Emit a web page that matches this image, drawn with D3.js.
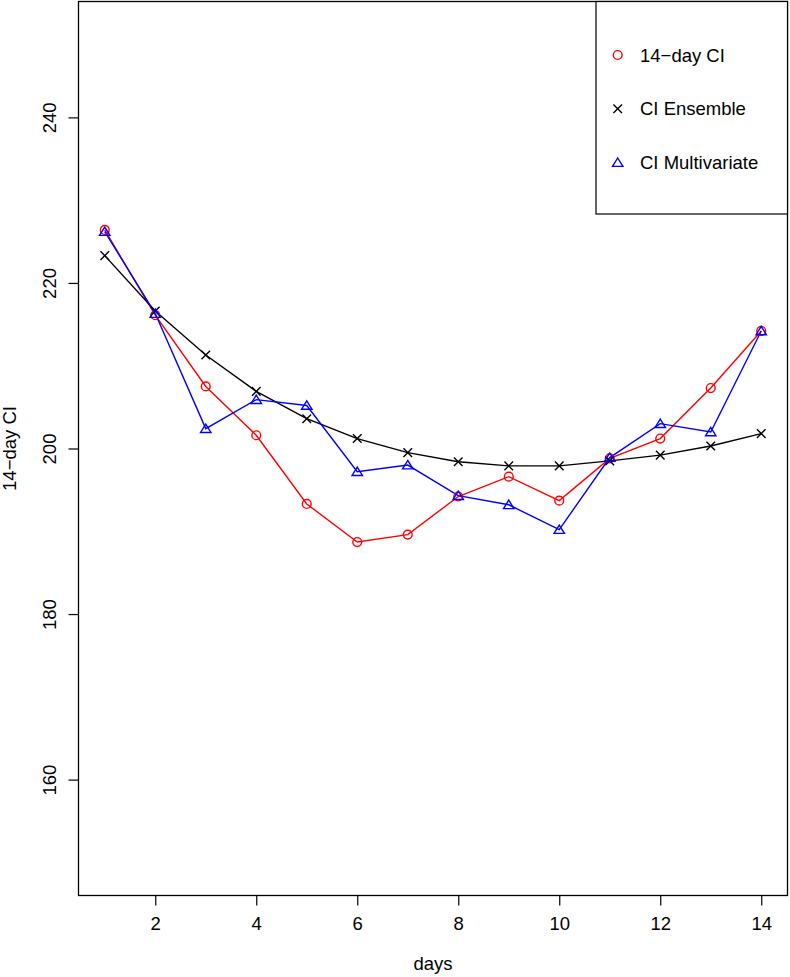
<!DOCTYPE html>
<html>
<head>
<meta charset="utf-8">
<script src="https://cdn.jsdelivr.net/npm/d3@7"></script>
<style>
  body { margin: 0; background: #fff; }
  svg text { font-family: "Liberation Sans", Arial, sans-serif; font-size: 18.5px; fill: #000; }
</style>
</head>
<body>
<div id="chart"></div>
<script>
// values
var days = [1, 2, 3, 4, 5, 6, 7, 8, 9, 10, 11, 12, 13, 14];
var ci14 = [226.4, 216.1, 207.5, 201.6, 193.3, 188.7, 189.6, 194.2, 196.6, 193.7, 198.8, 201.2, 207.3, 214.2];
var ciEnsemble = [223.3, 216.6, 211.3, 206.9, 203.6, 201.2, 199.5, 198.4, 197.9, 197.9, 198.5, 199.2, 200.3, 201.8];
var ciMulti = [226.2, 216.3, 202.4, 205.9, 205.2, 197.2, 198.0, 194.3, 193.2, 190.2, 198.9, 203.0, 202.0, 214.2];
var xTicks = [2, 4, 6, 8, 10, 12, 14];
var yTicks = [160, 180, 200, 220, 240];
var legendLabels = ["14\u2212day CI", "CI Ensemble", "CI Multivariate"];

var width = 790, height = 977;
var plotLeft = 78.5, plotRight = 787.5, plotTop = 1.5, plotBottom = 895.5;

var svg = d3.select('#chart')
    .append('svg')
    .attr('width', width)
    .attr('height', height);

// R style axis range: data range widened by 4% on each side
var x = d3.scaleLinear().domain([0.48, 14.52]).range([plotLeft, plotRight]);
var y = d3.scaleLinear().domain([146, 254]).range([plotBottom, plotTop]);

var series = [
    { name: legendLabels[0], values: ci14, color: '#ff0000', shape: 'circle' },
    { name: legendLabels[1], values: ciEnsemble, color: '#000000', shape: 'cross' },
    { name: legendLabels[2], values: ciMulti, color: '#0000ff', shape: 'triangle' }
];

function drawSymbol(g, shape, cx, cy, color) {
    if (shape == 'circle') {
        g.append('circle')
            .attr('cx', cx).attr('cy', cy).attr('r', 4.4)
            .attr('fill', 'none').attr('stroke', color).attr('stroke-width', 1.4);
    } else if (shape == 'cross') {
        var s = 4.3;
        g.append('path')
            .attr('d', 'M' + (cx - s) + ',' + (cy - s) + 'L' + (cx + s) + ',' + (cy + s) +
                'M' + (cx - s) + ',' + (cy + s) + 'L' + (cx + s) + ',' + (cy - s))
            .attr('stroke', color).attr('stroke-width', 1.4).attr('fill', 'none');
    } else {
        var w = 5.2;
        g.append('path')
            .attr('d', 'M' + cx + ',' + (cy - 4.6) + 'L' + (cx + w) + ',' + (cy + 3.8) +
                'L' + (cx - w) + ',' + (cy + 3.8) + 'Z')
            .attr('stroke', color).attr('stroke-width', 1.4).attr('fill', 'none');
    }
}

var line = d3.line()
    .x(function(d, i) { return x(days[i]); })
    .y(function(d) { return y(d); });

// lines first, then symbols
series.forEach(function(s) {
    svg.append('path')
        .datum(s.values)
        .attr('d', line)
        .attr('fill', 'none')
        .attr('stroke', s.color)
        .attr('stroke-width', 1.4);
});
series.forEach(function(s) {
    var g = svg.append('g');
    s.values.forEach(function(v, i) {
        drawSymbol(g, s.shape, x(days[i]), y(v), s.color);
    });
});

// axes
var xAxis = svg.append('g')
    .attr('transform', 'translate(0,' + plotBottom + ')')
    .call(d3.axisBottom(x).tickValues(xTicks).tickSize(10).tickPadding(11));
xAxis.select('.domain').remove();
xAxis.selectAll('line').attr('stroke', '#000').attr('stroke-width', 1.2);
xAxis.selectAll('text').attr('font-size', null).attr('font-family', null);

var yAxis = svg.append('g')
    .attr('transform', 'translate(' + plotLeft + ',0)')
    .call(d3.axisLeft(y).tickValues(yTicks).tickSize(10));
yAxis.select('.domain').remove();
yAxis.selectAll('line').attr('stroke', '#000').attr('stroke-width', 1.2);
yAxis.selectAll('text').remove();
yAxis.selectAll('.tick')
    .append('text')
    .attr('transform', 'translate(-23,0) rotate(-90)')
    .attr('text-anchor', 'middle')
    .text(function(d) { return d; });

// plot box
svg.append('rect')
    .attr('x', plotLeft).attr('y', plotTop)
    .attr('width', plotRight - plotLeft).attr('height', plotBottom - plotTop)
    .attr('fill', 'none').attr('stroke', '#000').attr('stroke-width', 1.3);

// axis titles
svg.append('text')
    .attr('x', (plotLeft + plotRight) / 2).attr('y', 970)
    .attr('text-anchor', 'middle')
    .text('days');
svg.append('text')
    .attr('transform', 'translate(16,' + ((plotTop + plotBottom) / 2) + ') rotate(-90)')
    .attr('text-anchor', 'middle')
    .text('14\u2212day CI');

// legend
var legend = svg.append('g');
legend.append('rect')
    .attr('x', 596).attr('y', plotTop)
    .attr('width', plotRight - 596).attr('height', 214 - plotTop)
    .attr('fill', '#fff').attr('stroke', '#000').attr('stroke-width', 1.2);
series.forEach(function(s, i) {
    var ly = 55 + i * 53.8;
    drawSymbol(legend, s.shape, 617.7, ly, s.color);
    legend.append('text')
        .attr('x', 640).attr('y', ly)
        .attr('dy', '0.36em')
        .text(s.name);
});
</script>
</body>
</html>
